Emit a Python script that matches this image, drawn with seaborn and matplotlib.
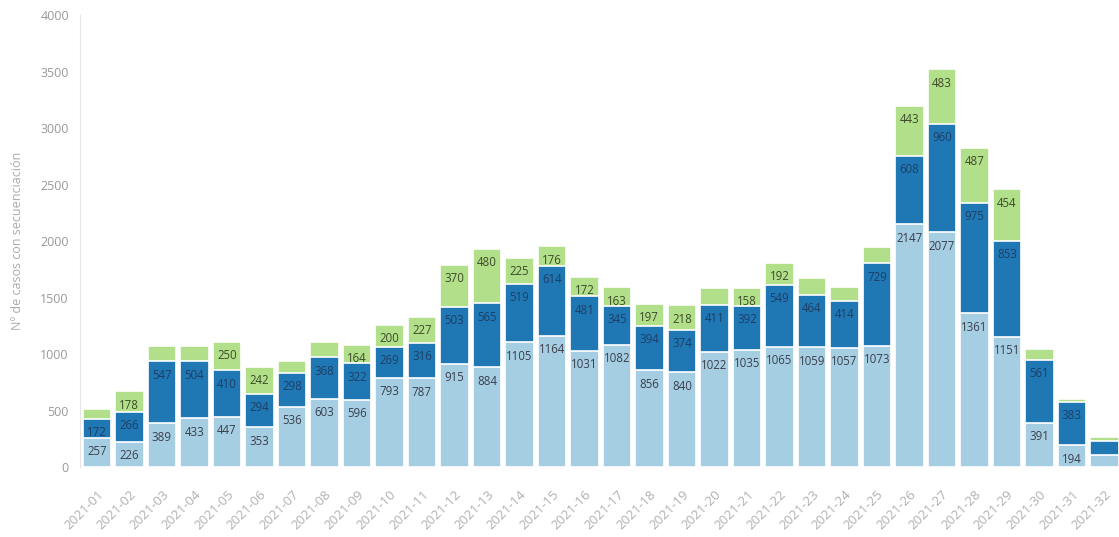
import matplotlib
matplotlib.use("Agg")
import matplotlib.pyplot as plt
import seaborn as sns
import pandas as pd

weeks = ["2021-%02d" % i for i in range(1, 33)]

# light blue (bottom), blue (middle), green (top)
light = [257, 226, 389, 433, 447, 353, 536, 603, 596, 793, 787, 915, 884, 1105, 1164, 1031,
         1082, 856, 840, 1022, 1035, 1065, 1059, 1057, 1073, 2147, 2077, 1361, 1151, 391, 194, 106]
blue = [172, 266, 547, 504, 410, 294, 298, 368, 322, 269, 316, 503, 565, 519, 614, 481,
        345, 394, 374, 411, 392, 549, 464, 414, 729, 608, 960, 975, 853, 561, 383, 124]
green = [85, 178, 135, 134, 250, 242, 105, 135, 164, 200, 227, 370, 480, 225, 176, 172,
         163, 197, 218, 150, 158, 192, 150, 120, 145, 443, 483, 487, 454, 90, 25, 35]

# which values carry a label in the original chart
light_lab = [True] * 31 + [False]
blue_lab = [True] * 31 + [False]
green_lab = [False, True, False, False, True, True, False, False, True, True, True, True, True, True, True, True,
             True, True, True, False, True, True, False, False, False, True, True, True, True, False, False, False]

df = pd.DataFrame({"week": weeks, "light": light, "blue": blue, "green": green})
df["lb"] = df["light"] + df["blue"]
df["total"] = df["lb"] + df["green"]

pal = sns.color_palette("Paired")
c_light, c_blue, c_green = pal[0], pal[1], pal[2]

sns.set_style("white")
plt.rcParams["font.family"] = ["Open Sans", "DejaVu Sans"]

fig = plt.figure(figsize=(11.19, 5.37), dpi=100)
ax = fig.add_axes([0.0715, 0.130, 0.9285, 0.842])

w = 0.88
sns.barplot(data=df, x="week", y="total", color=c_green, saturation=1, width=w,
            edgecolor="white", linewidth=1.2, ax=ax)
sns.barplot(data=df, x="week", y="lb", color=c_blue, saturation=1, width=w,
            edgecolor="white", linewidth=1.2, ax=ax)
sns.barplot(data=df, x="week", y="light", color=c_light, saturation=1, width=w,
            edgecolor="white", linewidth=1.2, ax=ax)

# labels sit just inside the top of each segment
fs = 8.3
off = 122
for i in range(len(weeks)):
    if light_lab[i]:
        ax.text(i, df["light"][i] - off, str(light[i]), ha="center", va="center",
                fontsize=fs, color="#3a3f4a")
    if blue_lab[i]:
        ax.text(i, df["lb"][i] - off, str(blue[i]), ha="center", va="center",
                fontsize=fs, color="#1d3f66")
    if green_lab[i]:
        ax.text(i, df["total"][i] - off, str(green[i]), ha="center", va="center",
                fontsize=fs, color="#3d4a2a")

ax.set_xlim(-0.52, 31.45)
ax.set_ylim(0, 4000)
ax.set_yticks(range(0, 4001, 500))
ax.set_xlabel("")
ax.set_ylabel("Nº de casos con secuenciación", fontsize=9, color="#aaaaaa", labelpad=12)
ax.tick_params(axis="y", labelsize=9, labelcolor="#999999", length=5, color="#e6e6e6", width=0.8, pad=3)
ax.tick_params(axis="x", labelsize=9.5, labelcolor="#b0b0b0", length=4, color="#eeeeee", width=0.8, pad=11)
plt.setp(ax.get_xticklabels(), rotation=45, ha="right", rotation_mode="anchor")
sns.despine(ax=ax, top=True, right=True, bottom=True)
ax.spines["left"].set_color("#e6e6e6")
ax.spines["left"].set_linewidth(0.8)

fig.savefig("out.png", dpi=100)
